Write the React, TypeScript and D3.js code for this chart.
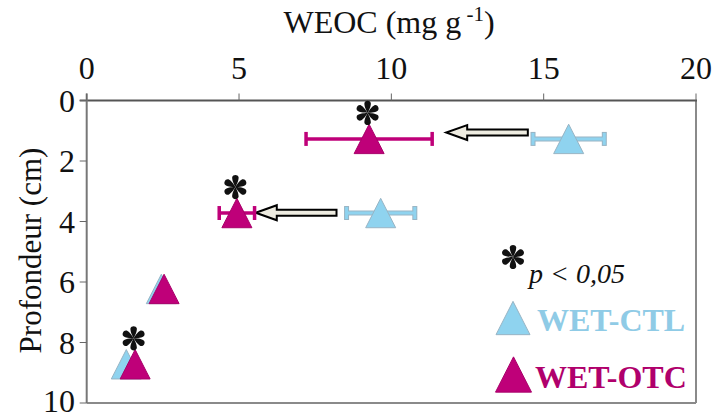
import React from "react";
import * as d3 from "d3";

const xTicks = [0, 5, 10, 15, 20];
const yTicks = [0, 2, 4, 6, 8, 10];

const depths = [1.27, 3.72, 6.23, 8.72];
const ctlMean = [15.82, 9.65, 2.45, 1.3];
const ctlErr = [1.17, 1.12, 0, 0];
const otcMean = [9.27, 4.93, 2.54, 1.59];
const otcErr = [2.07, 0.58, 0, 0];
const signif = [true, true, false, true];

// arrows: from CTL towards OTC (x start, x end, depth)
const arrowFrom = [14.48, 8.2];
const arrowTo = [11.8, 5.55];
const arrowDepth = [1.06, 3.71];

const W = 717;
const H = 415;

const CTL_FILL = "#8fd3ef";
const CTL_STROKE = "#98b4c4";
const OTC_FILL = "#bf0079";
const OTC_STROKE = "#a8006a";

function Triangle({ cx, cy, fill, stroke, s = 30 }: any) {
  const h = s * 0.98;
  const p = `M${cx},${cy - h / 2}L${cx + s / 2},${cy + h / 2}L${cx - s / 2},${cy + h / 2}Z`;
  return <path d={p} fill={fill} stroke={stroke} strokeWidth={1} />;
}

function Asterisk({ cx, cy, r = 11.5 }: any) {
  const petals = [0, 60, 120, 180, 240, 300];
  return (
    <g transform={`translate(${cx},${cy})`}>
      {petals.map((a) => (
        <path
          key={a}
          transform={`rotate(${a - 90})`}
          d={`M0,0 C${r * 0.15},${-r * 0.08} ${r * 0.55},${-r * 0.3} ${r * 0.85},${-r * 0.28} C${r * 1.12},${-r * 0.22} ${r * 1.12},${r * 0.22} ${r * 0.85},${r * 0.28} C${r * 0.55},${r * 0.3} ${r * 0.15},${r * 0.08} 0,0Z`}
          fill="#111"
        />
      ))}
    </g>
  );
}

function ErrorBar({ x0, x1, y, color, outline }: any) {
  const cap = 7;
  if (outline) {
    return (
      <g>
        <line x1={x0} x2={x1} y1={y} y2={y} stroke={outline} strokeWidth={5} />
        <line x1={x0} x2={x0} y1={y - cap} y2={y + cap} stroke={outline} strokeWidth={5} />
        <line x1={x1} x2={x1} y1={y - cap} y2={y + cap} stroke={outline} strokeWidth={5} />
        <line x1={x0} x2={x1} y1={y} y2={y} stroke={color} strokeWidth={3} />
        <line x1={x0} x2={x0} y1={y - cap + 1} y2={y + cap - 1} stroke={color} strokeWidth={3} />
        <line x1={x1} x2={x1} y1={y - cap + 1} y2={y + cap - 1} stroke={color} strokeWidth={3} />
      </g>
    );
  }
  return (
    <g stroke={color} strokeWidth={3.5}>
      <line x1={x0} x2={x1} y1={y} y2={y} />
      <line x1={x0} x2={x0} y1={y - cap} y2={y + cap} />
      <line x1={x1} x2={x1} y1={y - cap} y2={y + cap} />
    </g>
  );
}

function Arrow({ xs, xe, y }: any) {
  const bh = 3;
  const hh = 7.5;
  const hl = 21;
  const d = `M${xs},${y - bh}L${xe + hl},${y - bh}L${xe + hl},${y - hh}L${xe},${y}L${xe + hl},${y + hh}L${xe + hl},${y + bh}L${xs},${y + bh}Z`;
  return <path d={d} fill="#eeece1" stroke="#000" strokeWidth={2} strokeLinejoin="miter" />;
}

export default function App() {
  const x = d3.scaleLinear().domain([0, 20]).range([86.7, 696]);
  const y = d3.scaleLinear().domain([0, 10]).range([100.5, 403]);
  const font = "Liberation Serif, DejaVu Serif, serif";

  return (
    <svg width={W} height={H} fontFamily={font} style={{ position: "absolute", left: 0, top: 0, background: "#fff" }}>
      <rect x={0} y={0} width={W} height={H} fill="#fff" />
      {/* plot border right/bottom */}
      <line x1={x(20)} x2={x(20)} y1={y(0)} y2={y(10)} stroke="#8a8a8a" strokeWidth={2} />
      <line x1={x(0)} x2={x(20)} y1={y(10)} y2={y(10)} stroke="#8a8a8a" strokeWidth={2} />
      {/* axes */}
      <line x1={x(0) - 7} x2={x(20) + 1} y1={y(0)} y2={y(0)} stroke="#555" strokeWidth={2} />
      <line x1={x(0)} x2={x(0)} y1={y(0) - 7} y2={y(10)} stroke="#777" strokeWidth={2} />
      {xTicks.map((t) => (
        <g key={"xt" + t}>
          <line x1={x(t)} x2={x(t)} y1={y(0) - 7} y2={y(0)} stroke="#666" strokeWidth={1} />
          <text x={x(t)} y={79} textAnchor="middle" fontSize={32} fill="#111">
            {t}
          </text>
        </g>
      ))}
      {yTicks.map((t) => (
        <g key={"yt" + t}>
          <line x1={x(0) - 7} x2={x(0)} y1={y(t)} y2={y(t)} stroke="#666" strokeWidth={1} />
          <text x={75} y={Math.min(y(t) + 11, 412)} textAnchor="end" fontSize={32} fill="#111">
            {t}
          </text>
        </g>
      ))}
      <text x={389} y={33} textAnchor="middle" fontSize={32} fill="#111">
        WEOC (mg g
        <tspan dy={-12} fontSize={21}>
          {" -1"}
        </tspan>
        <tspan dy={12}>)</tspan>
      </text>
      <text transform={`translate(41,250.5) rotate(-90)`} textAnchor="middle" fontSize={31} fill="#111">
        Profondeur (cm)
      </text>

      {/* arrows */}
      {arrowFrom.map((a, i) => (
        <Arrow key={"ar" + i} xs={x(a)} xe={x(arrowTo[i])} y={y(arrowDepth[i])} />
      ))}

      {/* CTL series */}
      {depths.map((d, i) =>
        ctlErr[i] > 0 ? (
          <ErrorBar key={"ce" + i} x0={x(ctlMean[i] - ctlErr[i])} x1={x(ctlMean[i] + ctlErr[i])} y={y(d)} color={CTL_FILL} outline={CTL_STROKE} />
        ) : null
      )}
      {depths.map((d, i) => (
        <Triangle key={"ct" + i} cx={x(ctlMean[i])} cy={y(d)} fill={CTL_FILL} stroke={CTL_STROKE} />
      ))}
      {/* OTC series */}
      {depths.map((d, i) =>
        otcErr[i] > 0 ? (
          <ErrorBar key={"oe" + i} x0={x(otcMean[i] - otcErr[i])} x1={x(otcMean[i] + otcErr[i])} y={y(d)} color={OTC_FILL} />
        ) : null
      )}
      {depths.map((d, i) => (
        <Triangle key={"ot" + i} cx={x(otcMean[i])} cy={y(d)} fill={OTC_FILL} stroke={OTC_STROKE} />
      ))}
      {depths.map((d, i) =>
        signif[i] ? <Asterisk key={"as" + i} cx={x(otcMean[i]) - 1.5} cy={y(d) - 26} /> : null
      )}

      {/* legend */}
      <Asterisk cx={513} cy={257} />
      <text x={529} y={283} fontSize={28} fontStyle="italic" fill="#111">
        p {"<"} 0,05
      </text>
      <Triangle cx={513} cy={318} fill={CTL_FILL} stroke={CTL_STROKE} s={34} />
      <text x={537} y={331} fontSize={32} fontWeight="bold" fill="#8fcbe6">
        WET-CTL
      </text>
      <Triangle cx={513.5} cy={374.5} fill={OTC_FILL} stroke={OTC_STROKE} s={36} />
      <text x={535} y={388} fontSize={32} fontWeight="bold" fill="#b0006c">
        WET-OTC
      </text>
    </svg>
  );
}
